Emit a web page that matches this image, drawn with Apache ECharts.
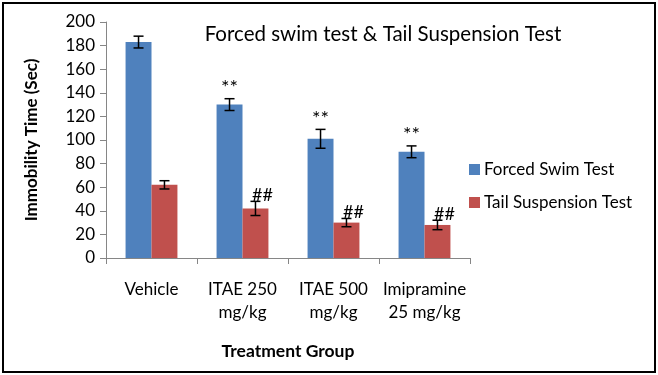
<!DOCTYPE html>
<html>
<head>
<meta charset="UTF-8">
<title>Immobility time</title>
<style>
  html, body { margin: 0; padding: 0; background: #fff; }
  #chart {
    position: absolute; left: 2px; top: 2px;
    width: 650px; height: 367px;
    border: 2px solid #000;
  }
</style>
</head>
<body>
<div id="chart"></div>
<script src="https://cdn.jsdelivr.net/npm/echarts@6/dist/echarts.min.js"></script>
<script>
// groups and values
var groups = ['Vehicle', 'ITAE 250\nmg/kg', 'ITAE 500\nmg/kg', 'Imipramine\n25 mg/kg'];
var fstMean = [183, 130, 101, 90];
var fstErr = [5, 5, 8, 5];
var tstMean = [62, 42, 30, 28];
var tstErr = [3.5, 6, 3.5, 4];
var fstMark = ['', '**', '**', '**'];
var tstMark = ['', '##', '##', '##'];

var FONT = 'Lato';
var BAR_FRAC = 0.285;

function errData(mean, err, mark) {
  return mean.map(function (m, i) { return [i, m, err[i], mark[i]]; });
}

// draws one error bar plus the significance mark above it
function errRenderer(side, markDx, markDy, markSize) {
  return function (params, api) {
    var i = api.value(0), m = api.value(1), e = api.value(2);
    var band = api.size([1, 0])[0];
    var off = side * band * BAR_FRAC / 2;
    var top = api.coord([i, m + e]);
    var bot = api.coord([i, m - e]);
    var x = top[0] + off;
    var cap = 5;
    var st = { stroke: '#000', lineWidth: 1.5 };
    var kids = [
      { type: 'line', shape: { x1: x, y1: top[1], x2: x, y2: bot[1] }, style: st },
      { type: 'line', shape: { x1: x - cap, y1: top[1], x2: x + cap, y2: top[1] }, style: st },
      { type: 'line', shape: { x1: x - cap, y1: bot[1], x2: x + cap, y2: bot[1] }, style: st }
    ];
    var txt = api.value(3);
    if (txt) {
      kids.push({
        type: 'text',
        style: {
          text: txt, x: x + markDx, y: top[1] + markDy,
          align: 'center', verticalAlign: 'middle',
          font: markSize + 'px ' + FONT, fill: '#000'
        }
      });
    }
    return { type: 'group', children: kids };
  };
}

var chart = echarts.init(document.getElementById('chart'));
chart.setOption({
  animation: false,
  textStyle: { fontFamily: FONT },
  title: {
    text: 'Forced swim test & Tail Suspension Test',
    left: 374, top: 15, textAlign: 'center',
    textStyle: { fontFamily: FONT, fontSize: 20.5, fontWeight: 'normal', color: '#000' }
  },
  legend: {
    orient: 'vertical',
    left: 465, top: 157, padding: 0,
    itemWidth: 11, itemHeight: 11, itemGap: 16,
    icon: 'rect',
    data: ['Forced Swim Test', 'Tail Suspension Test'],
    textStyle: { fontFamily: FONT, fontSize: 17, color: '#000', padding: [0, 0, 0, -1] }
  },
  grid: { left: 102, right: 184, top: 18, bottom: 113 },
  xAxis: {
    type: 'category',
    data: groups,
    name: 'Treatment Group',
    nameLocation: 'middle',
    nameGap: 84,
    nameTextStyle: { fontFamily: FONT, fontSize: 17.5, fontWeight: 'bold', color: '#000' },
    axisLine: { lineStyle: { color: '#868686', width: 1 } },
    axisTick: { show: true, length: 6, lineStyle: { color: '#868686' } },
    axisLabel: { fontSize: 17, color: '#000', margin: 20, lineHeight: 23, interval: 0 }
  },
  yAxis: {
    type: 'value',
    min: 0, max: 200, interval: 20,
    name: 'Immobility Time (Sec)',
    nameLocation: 'middle',
    nameGap: 66,
    nameTextStyle: { fontFamily: FONT, fontSize: 17, fontWeight: 'bold', color: '#000' },
    axisLine: { show: true, lineStyle: { color: '#868686', width: 1 } },
    axisTick: { show: true, length: 6, lineStyle: { color: '#868686' } },
    axisLabel: { fontSize: 17, color: '#000', margin: 11 },
    splitLine: { show: false }
  },
  series: [
    {
      name: 'Forced Swim Test', type: 'bar',
      data: fstMean, barWidth: (BAR_FRAC * 100) + '%', barGap: '0%',
      itemStyle: { color: '#4F81BD' }
    },
    {
      name: 'Tail Suspension Test', type: 'bar',
      data: tstMean, barWidth: (BAR_FRAC * 100) + '%', barGap: '0%',
      itemStyle: { color: '#C0504D' }
    },
    {
      type: 'custom', renderItem: errRenderer(-1, 0, -11, 20),
      data: errData(fstMean, fstErr, fstMark), z: 5, silent: true
    },
    {
      type: 'custom', renderItem: errRenderer(1, 7, -6, 18),
      data: errData(tstMean, tstErr, tstMark), z: 5, silent: true
    }
  ]
});
</script>
</body>
</html>
